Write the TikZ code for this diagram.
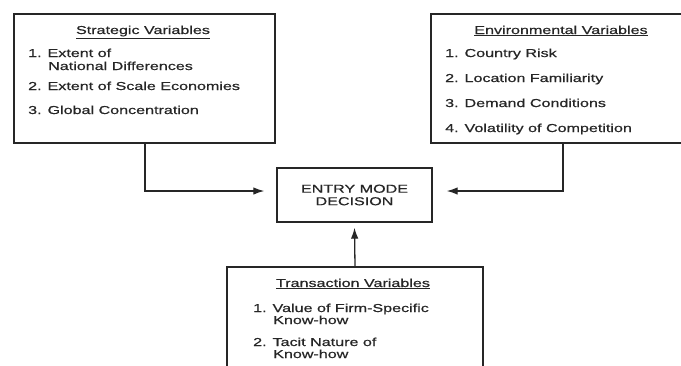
\documentclass[tikz,border=0pt]{standalone}
\usepackage{fontspec}
\setmainfont{Liberation Sans}[FakeStretch=1.4, FakeBold=0.6]
\usetikzlibrary{arrows.meta}
\begin{document}
\begin{tikzpicture}[x=1pt,y=-1pt,
  panel/.style={draw=black!85, line width=1.4pt, inner sep=0pt},
  txt/.style={inner sep=0pt, text=black!85, font=\fontsize{11.5}{12.5}\selectfont},
  item/.style={txt, anchor=base west},
  head/.style={txt, anchor=base},
  link/.style={draw=black!85, line width=1.3pt, -{Latex[length=11pt,width=7.5pt]}}]

\useasboundingbox (0,0) rectangle (681,365);
\clip (0,0) rectangle (681,365);
\fill[white] (0,0) rectangle (681,365);

% boxes
\node[panel, minimum width=261pt, minimum height=129pt] (strat) at (144.5,78.5) {};
\node[panel, minimum width=259pt, minimum height=129pt] (env) at (560.5,78.5) {};
\node[panel, txt, minimum width=155pt, minimum height=54pt, align=center] (entry) at (354.5,195) {ENTRY MODE\\DECISION};
\node[panel, minimum width=256pt, minimum height=120pt] (trans) at (355,327) {};

% strategic variables
\node[head] (sh) at (143,34) {\underline{Strategic Variables}};
\node[item] (s1) at (28,57) {1. Extent of};
\node[item] (s1b) at (48,70) {National Differences};
\node[item] (s2) at (28,90) {2. Extent of Scale Economies};
\node[item] (s3) at (28,114) {3. Global Concentration};

% environmental variables
\node[head] (eh) at (561,34) {\underline{Environmental Variables}};
\node[item] (e1) at (445,57) {1. Country Risk};
\node[item] (e2) at (445,82) {2. Location Familiarity};
\node[item] (e3) at (445,107) {3. Demand Conditions};
\node[item] (e4) at (445,132) {4. Volatility of Competition};

% transaction variables
\node[head] (th) at (353,287) {\underline{Transaction Variables}};
\node[item] (t1) at (253,312) {1. Value of Firm-Specific};
\node[item] (t1b) at (273,324) {Know-how};
\node[item] (t2) at (253,346) {2. Tacit Nature of};
\node[item] (t2b) at (273,358) {Know-how};

% connectors
\draw[link] ([xshift=0.5pt]strat.south) |- ([xshift=-12pt,yshift=4pt]entry.west);
\draw[link] ([xshift=2.5pt]env.south) |- ([xshift=14pt,yshift=4pt]entry.east);
\draw[link] (trans.north) -- ([yshift=-5pt]entry.south);
\end{tikzpicture}
\end{document}
